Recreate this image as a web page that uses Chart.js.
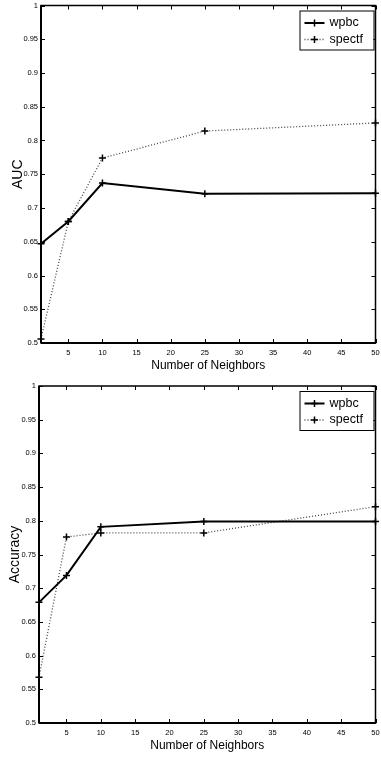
<!DOCTYPE html>
<html>
<head>
<meta charset="utf-8">
<script src="https://cdn.jsdelivr.net/npm/chart.js@4.4.0/dist/chart.umd.min.js"></script>
<style>
  body { margin: 0; background: #fff; }
  canvas { display: block; }
</style>
</head>
<body>
<canvas id="aucChart" width="381" height="380"></canvas>
<canvas id="accChart" width="381" height="380"></canvas>
<script>
// data
const neighbors = [1, 5, 10, 25, 50];
const aucWpbc = [0.647, 0.680, 0.737, 0.721, 0.722];
const aucSpectf = [0.506, 0.680, 0.774, 0.814, 0.826];
const accWpbc = [0.679, 0.719, 0.791, 0.799, 0.799];
const accSpectf = [0.568, 0.776, 0.782, 0.782, 0.821];
const xTicks = [5, 10, 15, 20, 25, 30, 35, 40, 45, 50];
const yTicks = [0.5, 0.55, 0.6, 0.65, 0.7, 0.75, 0.8, 0.85, 0.9, 0.95, 1];

Chart.defaults.font.family = '"Liberation Sans", Arial, sans-serif';
Chart.defaults.color = '#000';

function drawPlus(ctx, x, y, r) {
  ctx.beginPath();
  ctx.moveTo(x - r, y);
  ctx.lineTo(x + r, y);
  ctx.moveTo(x, y - r);
  ctx.lineTo(x, y + r);
  ctx.stroke();
}

// matlab style box: frame, inward ticks on all sides, boxed legend
const boxPlugin = {
  id: 'box',
  afterDatasetsDraw(chart) {
    const { ctx, chartArea: a, scales } = chart;
    ctx.save();
    ctx.strokeStyle = '#000';
    ctx.lineWidth = 1;
    ctx.beginPath();
    scales.x.ticks.forEach(t => {
      const px = Math.round(scales.x.getPixelForValue(t.value)) + 0.5;
      ctx.moveTo(px, a.bottom); ctx.lineTo(px, a.bottom - 4);
      ctx.moveTo(px, a.top); ctx.lineTo(px, a.top + 4);
    });
    scales.y.ticks.forEach(t => {
      const py = Math.round(scales.y.getPixelForValue(t.value)) + 0.5;
      ctx.moveTo(a.left, py); ctx.lineTo(a.left + 4, py);
      ctx.moveTo(a.right, py); ctx.lineTo(a.right - 4, py);
    });
    ctx.stroke();
    ctx.lineWidth = 1.5;
    ctx.strokeRect(a.left, a.top, a.right - a.left, a.bottom - a.top);
    ctx.lineWidth = 2;
    ctx.beginPath();
    ctx.moveTo(a.left, a.bottom); ctx.lineTo(a.right, a.bottom);
    ctx.moveTo(a.left, a.top); ctx.lineTo(a.left, a.bottom);
    ctx.stroke();

    // legend
    const bw = 74, bh = 39;
    const bx = a.right - 2 - bw, by = a.top + 5;
    ctx.fillStyle = '#fff';
    ctx.fillRect(bx, by, bw, bh);
    ctx.lineWidth = 1;
    ctx.strokeStyle = '#000';
    ctx.strokeRect(bx + 0.5, by + 0.5, bw, bh);
    chart.data.datasets.forEach((ds, i) => {
      const ly = by + 12.5 + i * 16.5;
      ctx.strokeStyle = ds.borderColor;
      ctx.lineWidth = ds.borderWidth;
      ctx.setLineDash(ds.borderDash || []);
      ctx.beginPath();
      ctx.moveTo(bx + 5, ly);
      ctx.lineTo(bx + 25, ly);
      ctx.stroke();
      ctx.setLineDash([]);
      ctx.strokeStyle = ds.pointBorderColor;
      ctx.lineWidth = ds.pointBorderWidth;
      drawPlus(ctx, bx + 15, ly, ds.pointRadius);
      ctx.fillStyle = '#000';
      ctx.font = '12.5px "Liberation Sans", Arial, sans-serif';
      ctx.textBaseline = 'middle';
      ctx.textAlign = 'left';
      ctx.fillText(ds.label, bx + 30, ly);
    });
    ctx.restore();
  }
};

function makeChart(id, yLabel, wpbc, spectf, leftW, padTop, padRight, titlePad) {
  return new Chart(document.getElementById(id), {
    type: 'line',
    data: {
      datasets: [
        {
          label: 'wpbc',
          data: neighbors.map((n, i) => ({ x: n, y: wpbc[i] })),
          borderColor: '#000',
          borderWidth: 2,
          pointStyle: 'cross',
          pointRadius: 3.5,
          pointBorderWidth: 1.5,
          pointBorderColor: '#000',
          fill: false,
          tension: 0,
          clip: false
        },
        {
          label: 'spectf',
          data: neighbors.map((n, i) => ({ x: n, y: spectf[i] })),
          borderColor: '#444',
          borderWidth: 1.3,
          borderDash: [1, 2],
          pointStyle: 'cross',
          pointRadius: 3.5,
          pointBorderWidth: 1.5,
          pointBorderColor: '#000',
          fill: false,
          tension: 0,
          clip: false
        }
      ]
    },
    options: {
      responsive: false,
      animation: false,
      layout: { padding: { top: padTop, right: padRight, left: 0, bottom: 0 } },
      plugins: { legend: { display: false }, tooltip: { enabled: false } },
      scales: {
        x: {
          type: 'linear',
          min: 1,
          max: 50,
          afterBuildTicks: s => { s.ticks = xTicks.map(v => ({ value: v })); },
          afterFit: s => { s.height = 37; s.paddingLeft = 0; s.paddingRight = 0; },
          grid: { display: false, drawTicks: false },
          border: { display: false },
          ticks: { font: { size: 7.5 }, padding: 5, maxRotation: 0, autoSkip: false },
          title: { display: true, text: 'Number of Neighbors', font: { size: 12 }, padding: { top: 0, bottom: 7 } }
        },
        y: {
          min: 0.5,
          max: 1,
          afterBuildTicks: s => { s.ticks = yTicks.map(v => ({ value: v })); },
          afterFit: s => { s.width = leftW; s.paddingTop = 0; s.paddingBottom = 0; },
          grid: { display: false, drawTicks: false },
          border: { display: false },
          ticks: {
            font: { size: 7.5 },
            padding: 3,
            autoSkip: false,
            callback: v => String(Math.round(v * 100) / 100)
          },
          title: { display: true, text: yLabel, font: { size: 14 }, padding: { top: titlePad, bottom: 0 } }
        }
      }
    },
    plugins: [boxPlugin]
  });
}

makeChart('aucChart', 'AUC', aucWpbc, aucSpectf, 41, 5, 3, 10);
makeChart('accChart', 'Accuracy', accWpbc, accSpectf, 39, 6, 5, 7);
</script>
</body>
</html>
